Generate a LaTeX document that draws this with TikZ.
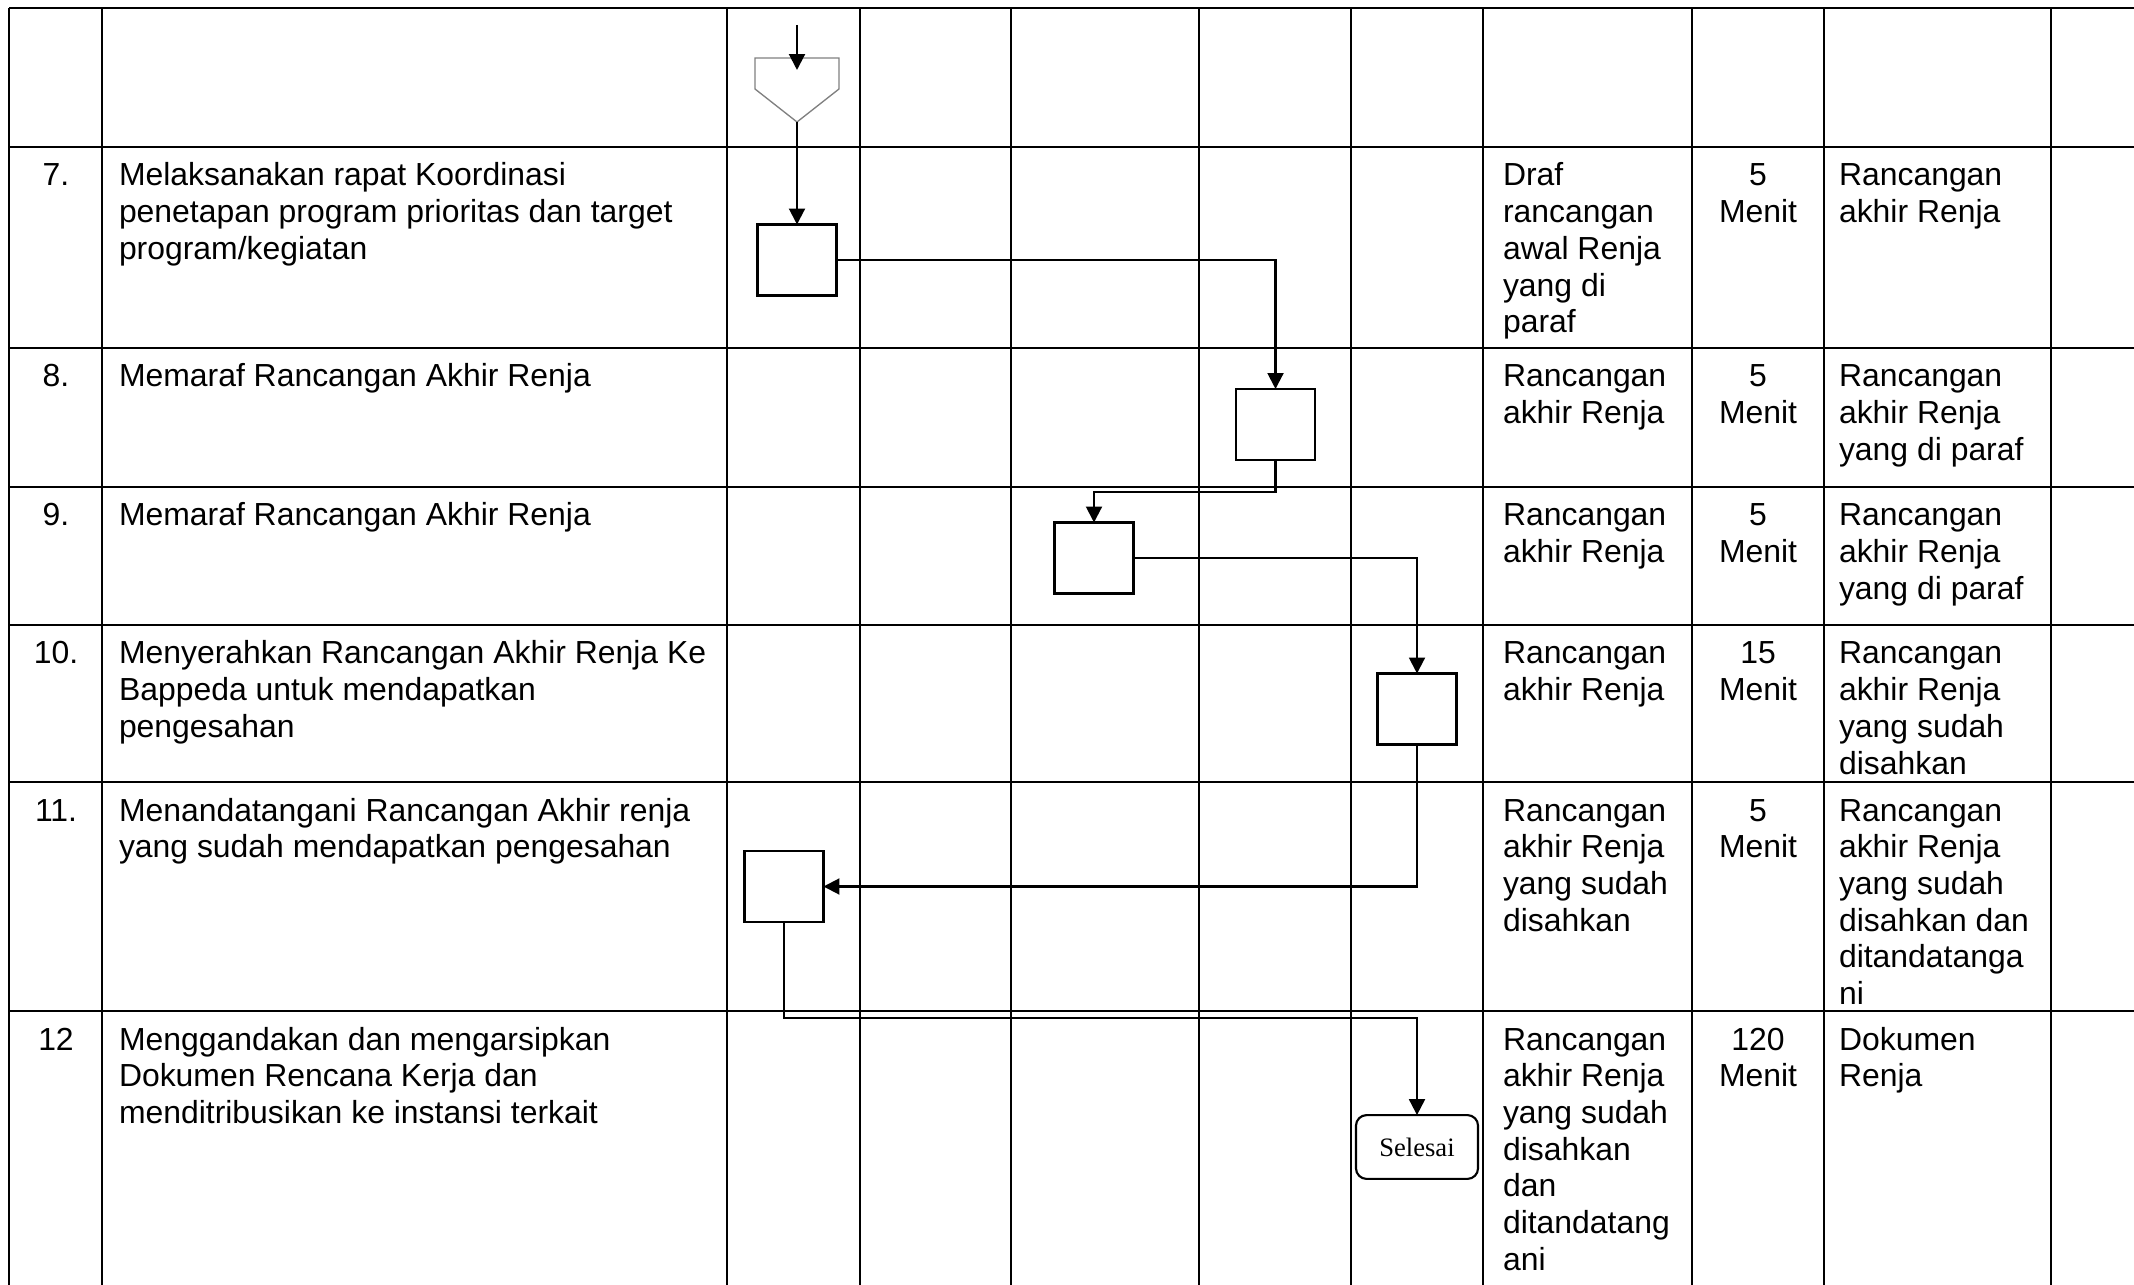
\documentclass[tikz,border=0pt]{standalone}
\usepackage{fontspec}
\setmainfont{Liberation Sans}
\newfontfamily\selfont{Liberation Serif}
\usetikzlibrary{arrows.meta}
\newcommand{\cellL}[1]{\begin{tabular}[t]{@{}l@{}}#1\end{tabular}}
\newcommand{\cellC}[1]{\begin{tabular}[t]{@{}c@{}}#1\end{tabular}}
\begin{document}
\begin{tikzpicture}[x=0.376pt, y=-0.376pt,
  every node/.style={inner sep=0pt, outer sep=0pt},
  txt/.style={anchor=base west, font=\fontsize{12}{13.8}\selectfont},
  ctxt/.style={anchor=base, font=\fontsize{12}{13.8}\selectfont},
  hline/.style={line width=1pt},
  vline/.style={line width=0.8pt},
  procbox/.style={draw, line width=0.8pt, minimum width=29.7pt, minimum height=26.7pt},
  endbox/.style={draw, line width=0.8pt, rounded corners=4pt, minimum width=45.9pt, minimum height=24pt, font=\selfont\fontsize{10}{12}\selectfont},
  flow/.style={line width=0.8pt, -{Triangle[length=6pt, width=6pt]}},
  offpage/.style={line width=0.5pt, draw=gray}
]
\useasboundingbox (0,0) rectangle (2134,1285);
\fill[white] (0,0) rectangle (2134,1285);

% grid
\foreach \yy in {8,147,348,487,625,782,1011}
  \draw[hline] (9,\yy) -- (2134,\yy);
\foreach \xx in {9,102,727,860,1011,1199,1351,1483,1692,1824,2051}
  \draw[vline] (\xx,8) -- (\xx,1285);

% off-page connector
\draw[offpage] (755,58) -- (839,58) -- (839,89) -- (797,122) -- (755,89) -- cycle;
\coordinate (in0) at (797,25);
\coordinate (in1) at (797,70);
\coordinate (ptip) at (797,122);
\draw[flow] (in0) -- (in1);

% process boxes
\node[procbox] (b1) at (797,260) {};
\node[procbox] (b2) at (1275.5,424.5) {};
\node[procbox] (b3) at (1094,558) {};
\node[procbox] (b4) at (1417,709) {};
\node[procbox] (b5) at (784,886.5) {};
\node[endbox] (sel) at (1417,1147) {Selesai};

\coordinate (k1) at (1094,492);
\coordinate (k2) at (1417,1018);

\draw[flow] (ptip) -- (b1.north);
\draw[flow] (b1.east) -| (b2.north);
\draw[flow] (b2.south) |- (k1) -- (b3.north);
\draw[flow] (b3.east) -| (b4.north);
\draw[flow] (b4.south) |- (b5.east);
\draw[flow] (b5.south) |- (k2) -- (sel.north);

% row 7
\node[ctxt] (n7) at (56,186) {7.};
\node[txt] (d7) at (119,186) {\cellL{Melaksanakan rapat Koordinasi\\penetapan program prioritas dan target\\program/kegiatan}};
\node[txt] (i7) at (1503,186) {\cellL{Draf\\rancangan\\awal Renja\\yang di\\paraf}};
\node[ctxt] (t7) at (1758,186) {\cellC{5\\Menit}};
\node[txt] (o7) at (1839,186) {\cellL{Rancangan\\akhir Renja}};

% row 8
\node[ctxt] (n8) at (56,387) {8.};
\node[txt] (d8) at (119,387) {Memaraf Rancangan Akhir Renja};
\node[txt] (i8) at (1503,387) {\cellL{Rancangan\\akhir Renja}};
\node[ctxt] (t8) at (1758,387) {\cellC{5\\Menit}};
\node[txt] (o8) at (1839,387) {\cellL{Rancangan\\akhir Renja\\yang di paraf}};

% row 9
\node[ctxt] (n9) at (56,526) {9.};
\node[txt] (d9) at (119,526) {Memaraf Rancangan Akhir Renja};
\node[txt] (i9) at (1503,526) {\cellL{Rancangan\\akhir Renja}};
\node[ctxt] (t9) at (1758,526) {\cellC{5\\Menit}};
\node[txt] (o9) at (1839,526) {\cellL{Rancangan\\akhir Renja\\yang di paraf}};

% row 10
\node[ctxt] (n10) at (56,664) {10.};
\node[txt] (d10) at (119,664) {\cellL{Menyerahkan Rancangan Akhir Renja Ke\\Bappeda untuk mendapatkan\\pengesahan}};
\node[txt] (i10) at (1503,664) {\cellL{Rancangan\\akhir Renja}};
\node[ctxt] (t10) at (1758,664) {\cellC{15\\Menit}};
\node[txt] (o10) at (1839,664) {\cellL{Rancangan\\akhir Renja\\yang sudah\\disahkan}};

% row 11
\node[ctxt] (n11) at (56,821) {11.};
\node[txt] (d11) at (119,821) {\cellL{Menandatangani Rancangan Akhir renja\\yang sudah mendapatkan pengesahan}};
\node[txt] (i11) at (1503,821) {\cellL{Rancangan\\akhir Renja\\yang sudah\\disahkan}};
\node[ctxt] (t11) at (1758,821) {\cellC{5\\Menit}};
\node[txt] (o11) at (1839,821) {\cellL{Rancangan\\akhir Renja\\yang sudah\\disahkan dan\\ditandatanga\\ni}};

% row 12
\node[ctxt] (n12) at (56,1050) {12};
\node[txt] (d12) at (119,1050) {\cellL{Menggandakan dan mengarsipkan\\Dokumen Rencana Kerja dan\\menditribusikan ke instansi terkait}};
\node[txt] (i12) at (1503,1050) {\cellL{Rancangan\\akhir Renja\\yang sudah\\disahkan\\dan\\ditandatang\\ani}};
\node[ctxt] (t12) at (1758,1050) {\cellC{120\\Menit}};
\node[txt] (o12) at (1839,1050) {\cellL{Dokumen\\Renja}};
\end{tikzpicture}
\end{document}
